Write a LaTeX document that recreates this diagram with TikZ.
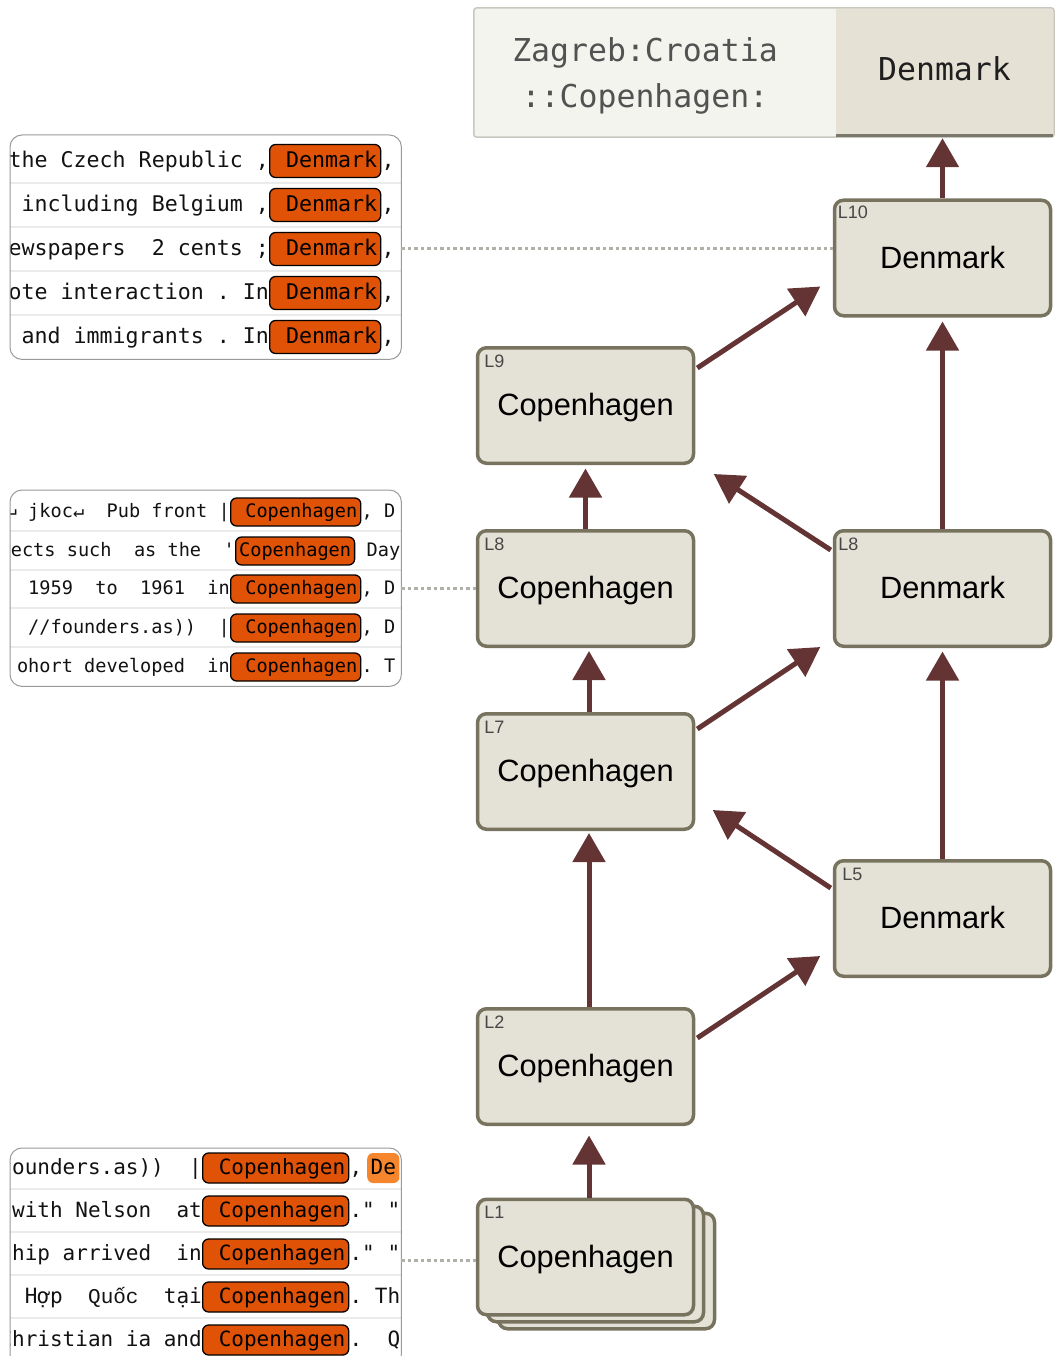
\documentclass[tikz,border=0pt]{standalone}
\usepackage{fontspec}
\setmainfont{Liberation Sans}
\setmonofont{DejaVu Sans Mono}
\newfontfamily\vietmono{Liberation Mono}
\usetikzlibrary{arrows.meta}

\definecolor{nodefill}{HTML}{E4E1D6}
\definecolor{nodeedge}{HTML}{77735F}
\definecolor{flow}{HTML}{643434}
\definecolor{hlorange}{HTML}{E05206}
\definecolor{hllight}{HTML}{F5862E}
\definecolor{panelrule}{HTML}{EBEBEB}
\definecolor{paneledge}{HTML}{9A9A9A}
\definecolor{probe}{HTML}{B0B0A8}
\definecolor{outleft}{HTML}{F4F4EF}
\definecolor{outright}{HTML}{E5E1D5}
\definecolor{outedge}{HTML}{C8C8C0}
\definecolor{outshade}{HTML}{7A7868}

\tikzset{
  layerbox/.style={draw=nodeedge, fill=nodefill, line width=3.5pt, rounded corners=9pt,
    minimum width=216pt, minimum height=115.5pt, inner sep=0pt,
    text height=23pt, text depth=3pt, font=\fontsize{30.8pt}{36pt}\selectfont},
  layertag/.style={anchor=north west, inner sep=0pt, text=black!72,
    font=\fontsize{18pt}{20pt}\selectfont},
  flowarrow/.style={draw=flow, line width=5pt, -{Triangle[width=32pt,length=29pt]}},
  probeline/.style={draw=probe, line width=3pt, dash pattern=on 3.5pt off 3pt},
  panelbox/.style={draw=paneledge, line width=1pt, rounded corners=12pt},
  rowrule/.style={draw=panelrule, line width=2pt},
  hl/.style={draw=black, line width=1.3pt, fill=hlorange, rounded corners=6pt,
    inner xsep=3.5pt, inner ysep=0pt, anchor=west},
  hlsoft/.style={fill=hllight, rounded corners=6pt, inner xsep=3.5pt, inner ysep=0pt, anchor=west},
  ctx/.style={inner sep=0pt, text=black!93},
}

% one row of a context panel: left context, highlighted token, right context
\newcommand\tokrow[6]{%
  \node[hl] (#1h) at (#3,#2) {#5};
  \node[ctx, anchor=base east] (#1l) at (#1h.base west) {#4};
  \node[ctx, anchor=base west] (#1r) at (#1h.base east) {#6};
}

\begin{document}
\frenchspacing
\begin{tikzpicture}[x=1pt,y=-1pt]
\useasboundingbox (0,0) rectangle (1058,1356);

% ---------- output box ----------
\node[fill=outleft, rounded corners=3pt, minimum width=580pt, minimum height=129pt, inner sep=0pt]
  (outbox) at (764,72.5) {};
\node[fill=outright, inner sep=0pt, minimum width=217pt, minimum height=128pt, anchor=south east,
  text height=23pt, text depth=8pt,
  font=\ttfamily\fontsize{31.5pt}{36pt}\selectfont, text=black!88]
  (outans) at ([xshift=-1pt]outbox.south east) {Denmark};
\draw[draw=outedge, line width=1.5pt, rounded corners=3pt] (outbox.north west) rectangle (outbox.south east);
\draw[draw=outshade, line width=3pt] ([yshift=1.5pt]outans.south west) -- ([yshift=1.5pt]outans.south east);
\node[align=center, inner sep=0pt, text=black!68, font=\ttfamily\fontsize{31.5pt}{46pt}\selectfont]
  (outctx) at (645,76) {Zagreb:Croatia\\::Copenhagen:};

% ---------- layer nodes ----------
\node[layerbox] (L1c) at (606.5,1271) {};
\node[layerbox] (L1b) at (595.5,1264) {};
\node[layerbox] (L1) at (585.5,1257) {Copenhagen};
\node[layerbox] (L2) at (585.5,1066.5) {Copenhagen};
\node[layerbox] (L7) at (585.5,771.5) {Copenhagen};
\node[layerbox] (L8a) at (585.5,588.5) {Copenhagen};
\node[layerbox] (L9) at (585.5,405.5) {Copenhagen};
\node[layerbox] (L5) at (942.5,918.5) {Denmark};
\node[layerbox] (L8b) at (942.5,588.5) {Denmark};
\node[layerbox] (L10) at (942.5,258) {Denmark};

\node[layertag] (L1tag) at ([xshift=8.5pt,yshift=-8.5pt]L1.north west) {L1};
\node[layertag] (L2tag) at ([xshift=8.5pt,yshift=-8.5pt]L2.north west) {L2};
\node[layertag] (L7tag) at ([xshift=8.5pt,yshift=-8.5pt]L7.north west) {L7};
\node[layertag] (L8atag) at ([xshift=8.5pt,yshift=-8.5pt]L8a.north west) {L8};
\node[layertag] (L9tag) at ([xshift=8.5pt,yshift=-8.5pt]L9.north west) {L9};
\node[layertag] (L5tag) at ([xshift=9.5pt,yshift=-8.5pt]L5.north west) {L5};
\node[layertag] (L8btag) at ([xshift=5.5pt,yshift=-8.5pt]L8b.north west) {L8};
\node[layertag] (L10tag) at ([xshift=5pt,yshift=-7pt]L10.north west) {L10};

% ---------- vertical flow ----------
\coordinate (ansfoot) at ([yshift=-1pt]outans.south -| L10.north);
\draw[flowarrow] ([xshift=3.5pt]L1.north) -- ([xshift=3.5pt,yshift=-9.5pt]L2.south);
\draw[flowarrow] ([xshift=3.5pt]L2.north) -- ([xshift=3.5pt,yshift=-2pt]L7.south);
\draw[flowarrow] ([xshift=3.5pt]L7.north) -- ([xshift=3.5pt,yshift=-3pt]L8a.south);
\draw[flowarrow] (L8a.north) -- ([yshift=-3.5pt]L9.south);
\draw[flowarrow] (L5.north) -- ([yshift=-3.5pt]L8b.south);
\draw[flowarrow] (L8b.north) -- ([yshift=-4pt]L10.south);
\draw[flowarrow] (L10.north) -- (ansfoot);

% ---------- diagonal flow ----------
\draw[flowarrow] ([xshift=2pt,yshift=-31pt]L2.north east) -- ([xshift=-12.5pt,yshift=22pt]L5.south west);
\draw[flowarrow] ([xshift=-2pt,yshift=-29pt]L5.north west) -- ([xshift=17.5pt,yshift=21pt]L7.south east);
\draw[flowarrow] ([xshift=2pt,yshift=-17pt]L7.north east) -- ([xshift=-12.5pt,yshift=1pt]L8b.south west);
\draw[flowarrow] ([xshift=-2pt,yshift=-21pt]L8b.north west) -- ([xshift=18.5pt,yshift=-9pt]L9.south east);
\draw[flowarrow] ([xshift=2pt,yshift=-22pt]L9.north east) -- ([xshift=-12.5pt,yshift=31pt]L10.south west);

% ---------- context panel for L10 ----------
\node[minimum width=391pt, minimum height=224pt, inner sep=0pt, anchor=north west] (panA) at (10,135) {};
\begin{scope}[every node/.append style={font=\ttfamily\fontsize{21.6pt}{26pt}\selectfont},
  hl/.append style={minimum height=33pt, text height=17.5pt, text depth=4.5pt}]
  \clip[rounded corners=12pt] (panA.north west) rectangle (panA.south east);
  \foreach \yy in {183,227,271,315} \draw[rowrule] (10,\yy) -- (401,\yy);
  \tokrow{a1}{161}{269}{the Czech Republic~,}{~Denmark}{,}
  \tokrow{a2}{205}{269}{including Belgium~,}{~Denmark}{,}
  \tokrow{a3}{249}{269}{ewspapers~~2 cents~;}{~Denmark}{,}
  \tokrow{a4}{293}{269}{ote interaction~. In}{~Denmark}{,}
  \tokrow{a5}{337}{269}{and immigrants~. In}{~Denmark}{,}
\end{scope}
\draw[panelbox] (panA.north west) rectangle (panA.south east);

% ---------- context panel for L8 ----------
\node[minimum width=391pt, minimum height=196pt, inner sep=0pt, anchor=north west] (panB) at (10,490) {};
\begin{scope}[every node/.append style={font=\ttfamily\fontsize{18.6pt}{22pt}\selectfont},
  hl/.append style={minimum height=28pt, text height=15pt, text depth=3.8pt}]
  \clip[rounded corners=12pt] (panB.north west) rectangle (panB.south east);
  \foreach \yy in {531,570,608,647} \draw[rowrule] (10,\yy) -- (401,\yy);
  \tokrow{b1}{512}{230}{↵~jkoc↵~~Pub front |}{~Copenhagen}{,~D}
  \tokrow{b2}{551}{235}{ects such~~as the~~'}{Copenhagen}{~Day}
  \tokrow{b3}{589}{230}{1959~~to~~1961~~in}{~Copenhagen}{,~D}
  \tokrow{b4}{628}{230}{//founders.as))~~|}{~Copenhagen}{,~D}
  \tokrow{b5}{667}{230}{ohort developed~~in}{~Copenhagen}{.~T}
\end{scope}
\draw[panelbox] (panB.north west) rectangle (panB.south east);

% ---------- context panel for L1 ----------
\node[minimum width=391pt, minimum height=218pt, inner sep=0pt, anchor=north west] (panC) at (10,1148) {};
\begin{scope}[every node/.append style={font=\ttfamily\fontsize{21pt}{25pt}\selectfont},
  hl/.append style={minimum height=30pt, text height=17pt, text depth=4.3pt},
  hlsoft/.append style={minimum height=30pt, text height=17pt, text depth=4.3pt}]
  \clip[rounded corners=12pt] (panC.north west) rectangle (panC.south east);
  \foreach \yy in {1189,1232,1275,1318} \draw[rowrule] (10,\yy) -- (401,\yy);
  \tokrow{c1}{1168}{202}{founders.as))~~|}{~Copenhagen}{,}
  \node[hlsoft] (c1n) at (367,1168) {De};
  \tokrow{c2}{1211}{202}{with Nelson~~at}{~Copenhagen}{."~"}
  \tokrow{c3}{1254}{202}{ship arrived~~in}{~Copenhagen}{."~"}
  \tokrow{c4}{1297}{202}{Hợp~~{\vietmono Quốc}~~tại}{~Copenhagen}{.~Th}
  \tokrow{c5}{1340}{202}{Christian ia and}{~Copenhagen}{.~~Q}
\end{scope}
\draw[panelbox] (panC.north west) rectangle (panC.south east);

% ---------- probes from panels to layers ----------
\coordinate (tapA) at (0,249);
\coordinate (tapB) at (0,588);
\coordinate (tapC) at (0,1260);
\draw[probeline] (panA.east |- tapA) -- (L10.west |- tapA);
\draw[probeline] (panB.east |- tapB) -- (L8a.west |- tapB);
\draw[probeline] (panC.east |- tapC) -- (L1.west |- tapC);

\end{tikzpicture}
\end{document}
